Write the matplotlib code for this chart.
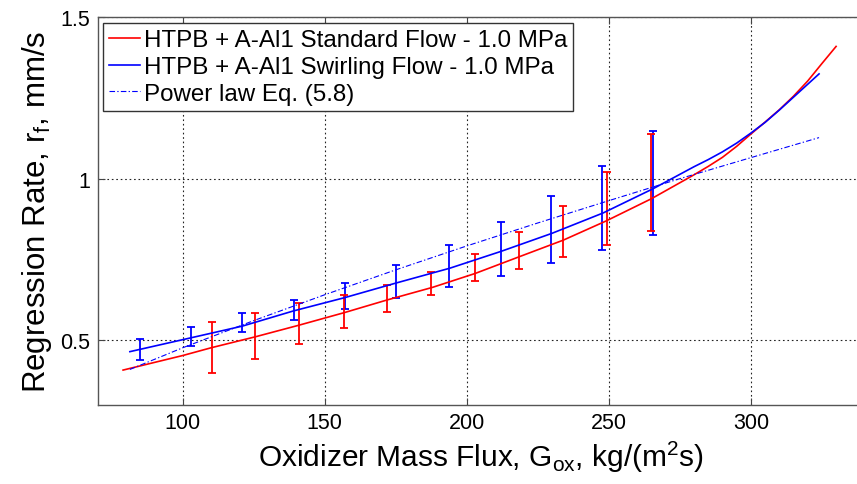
import numpy as np
import matplotlib
matplotlib.use("Agg")
import matplotlib.pyplot as plt

plt.rcParams["font.family"] = ["Liberation Sans", "DejaVu Sans"]
plt.rcParams["mathtext.fontset"] = "custom"
plt.rcParams["mathtext.rm"] = "Liberation Sans"
plt.rcParams["mathtext.it"] = "Liberation Sans:italic"
plt.rcParams["mathtext.default"] = "regular"

# fitted curves
STD_X = [79, 100, 110, 125.6, 141, 157, 172, 188, 203, 218, 234, 249, 265,
         280, 285, 290, 295, 300, 305, 310, 315, 320, 325, 330]
STD_Y = [0.408, 0.453, 0.477, 0.511, 0.547, 0.586, 0.625, 0.664, 0.707, 0.757,
         0.810, 0.869, 0.938, 1.012, 1.038, 1.066, 1.100, 1.138, 1.175, 1.213,
         1.255, 1.302, 1.356, 1.409]

SWL_X = [81.4, 103, 121, 139, 157, 175, 194, 212, 230, 248, 265.6,
         280, 285, 290, 295, 300, 305, 310, 315, 320, 324]
SWL_Y = [0.465, 0.508, 0.544, 0.591, 0.632, 0.677, 0.723, 0.775, 0.831, 0.894,
         0.969, 1.037, 1.059, 1.083, 1.110, 1.141, 1.174, 1.212, 1.252, 1.292, 1.324]

PL_X = [81.4, 100, 125, 150, 175, 200, 225, 250, 275, 300, 324]
PL_Y = [0.410, 0.477, 0.561, 0.641, 0.718, 0.792, 0.863, 0.932, 1.000, 1.065, 1.127]

# error bars (lower / upper ends)
SWL_EB_X = [84.8, 102.9, 120.8, 139.0, 157.1, 175.1, 193.6, 211.9, 229.6, 247.7, 265.6]
SWL_EB_LO = [0.439, 0.482, 0.527, 0.563, 0.598, 0.630, 0.665, 0.700, 0.738, 0.780, 0.826]
SWL_EB_HI = [0.505, 0.541, 0.583, 0.625, 0.677, 0.732, 0.795, 0.867, 0.946, 1.038, 1.147]

STD_EB_X = [110.2, 125.6, 141.0, 156.7, 171.8, 187.5, 203.0, 218.4, 233.9, 249.2, 264.7]
STD_EB_LO = [0.400, 0.443, 0.488, 0.538, 0.588, 0.639, 0.683, 0.720, 0.759, 0.796, 0.839]
STD_EB_HI = [0.557, 0.586, 0.614, 0.641, 0.672, 0.710, 0.766, 0.834, 0.915, 1.020, 1.137]

LABELS = ["HTPB + A-Al1 Standard Flow - 1.0 MPa",
          "HTPB + A-Al1 Swirling Flow - 1.0 MPa",
          "Power law Eq. (5.8)"]


def errbars(ax, x, lo, hi, color):
    lo = np.array(lo)
    hi = np.array(hi)
    mid = (lo + hi) / 2
    ax.errorbar(x, mid, yerr=(hi - lo) / 2, fmt="none", ecolor=color,
                elinewidth=1.3, capsize=2.6, capthick=1.3, zorder=3)


fig = plt.figure(figsize=(8.57, 4.85), dpi=100)
ax = fig.add_axes([97.5 / 857, 79 / 485, 767 / 857, 388 / 485])

ax.plot(STD_X, STD_Y, color="#ff0000", lw=1.2, label=LABELS[0], zorder=4)
ax.plot(SWL_X, SWL_Y, color="#0000ff", lw=1.2, label=LABELS[1], zorder=4)
ax.plot(PL_X, PL_Y, color="#0000ff", lw=0.8, linestyle=(0, (5, 2, 1.2, 2)),
        label=LABELS[2], zorder=4)
errbars(ax, SWL_EB_X, SWL_EB_LO, SWL_EB_HI, "#0000ff")
errbars(ax, STD_EB_X, STD_EB_LO, STD_EB_HI, "#ff0000")

ax.set_xlim(70, 340)
ax.set_ylim(0.3, 1.5)
ax.set_xticks([100, 150, 200, 250, 300])
ax.set_yticks([0.5, 1, 1.5])
ax.set_yticklabels(["0.5", "1", "1.5"])
ax.grid(True, color="#222222", linestyle=(0, (1.5, 2.5)), lw=0.8)
ax.tick_params(direction="in", length=5, width=0.8, labelsize=15.5,
               top=True, right=True, colors="#444444", labelcolor="black", pad=5)
for sp in ax.spines.values():
    sp.set_color("#555555")
    sp.set_linewidth(1.0)

ax.set_xlabel(r"Oxidizer Mass Flux, G$_{ox}$, kg/(m$^2$s)", fontsize=21.5, labelpad=4)
ax.set_ylabel(r"Regression Rate, r$_f$, mm/s", fontsize=22.5, labelpad=5)

leg = ax.legend(loc="upper left", bbox_to_anchor=(0.007, 0.984), fontsize=17.4,
                fancybox=False, framealpha=1, edgecolor="#333333",
                handlelength=1.3, handletextpad=0.15, labelspacing=0.2,
                borderpad=0.25, borderaxespad=0)
leg.get_frame().set_linewidth(1.0)

fig.savefig("out.png", dpi=100)
